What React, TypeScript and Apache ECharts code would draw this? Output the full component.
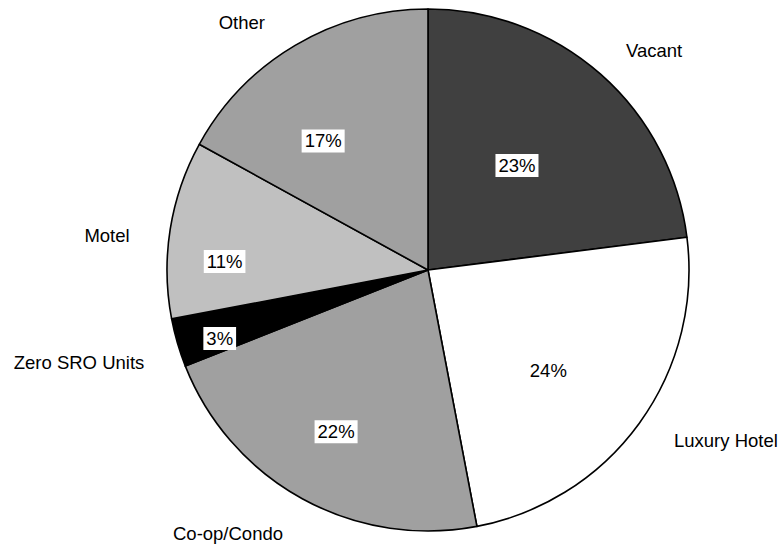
import React, { useEffect, useRef } from "react";
import * as echarts from "echarts";

// Share of converted SRO buildings by current use (percent)
const categories = ["Vacant", "Luxury Hotel", "Co-op/Condo", "Zero SRO Units", "Motel", "Other"];
const shares = [23, 24, 22, 3, 11, 17];
const fills = ["#404040", "#ffffff", "#a0a0a0", "#000000", "#c0c0c0", "#a0a0a0"];

// Pie geometry (px) and label anchors as [degrees clockwise from 12 o'clock, fraction of radius]
const CX = 428;
const CY = 270;
const R = 261;
const innerLabelPolar: [number, number][] = [
  [40.4, 0.526],
  [129.8, 0.6],
  [209.6, 0.713],
  [251.8, 0.84],
  [272.4, 0.78],
  [320.9, 0.637],
];
const outerLabelPolar: [number, number][] = [
  [45.8, 1.208],
  [119.85, 1.316],
  [217.25, 1.266],
  [255.2, 1.383],
  [276.2, 1.237],
  [323.1, 1.188],
];

const FONT = "'Liberation Sans', Arial, Helvetica, sans-serif";

function polarLayout(table: [number, number][]) {
  return (params: any) => {
    const [deg, f] = table[params.dataIndex];
    const rad = (deg * Math.PI) / 180;
    return {
      x: CX + Math.sin(rad) * f * R,
      y: CY - Math.cos(rad) * f * R,
      align: "center",
      verticalAlign: "middle",
    };
  };
}

export default function App() {
  const ref = useRef<HTMLDivElement>(null);

  useEffect(() => {
    if (!ref.current) return;
    const chart = echarts.init(ref.current, null, { renderer: "svg" });
    const data = categories.map((name, i) => ({
      name,
      value: shares[i],
      itemStyle: { color: fills[i] },
    }));

    chart.setOption({
      animation: false,
      backgroundColor: "#ffffff",
      series: [
        {
          // category names around the rim
          type: "pie",
          center: [CX, CY],
          radius: R,
          startAngle: 90,
          clockwise: true,
          avoidLabelOverlap: false,
          silent: true,
          z: 1,
          data: categories.map((name, i) => ({ name, value: shares[i] })),
          itemStyle: { color: "transparent", borderWidth: 0 },
          label: {
            show: true,
            position: "outside",
            formatter: "{b}",
            color: "#000000",
            fontFamily: FONT,
            fontSize: 18.5,
          },
          labelLine: { show: false },
          labelLayout: polarLayout(outerLabelPolar),
          emphasis: { disabled: true },
        },
        {
          // slices with boxed percentage labels
          type: "pie",
          center: [CX, CY],
          radius: R,
          startAngle: 90,
          clockwise: true,
          avoidLabelOverlap: false,
          silent: true,
          z: 2,
          data,
          itemStyle: { borderColor: "#000000", borderWidth: 1.6 },
          label: {
            show: true,
            position: "inside",
            formatter: "{c}%",
            color: "#000000",
            fontFamily: FONT,
            fontSize: 18.5,
            lineHeight: 19,
            backgroundColor: "#ffffff",
            padding: [2, 3, 2, 3],
          },
          labelLine: { show: false },
          labelLayout: polarLayout(innerLabelPolar),
          emphasis: { disabled: true },
        },
      ],
    });

    return () => chart.dispose();
  }, []);

  return (
    <div
      ref={ref}
      style={{ position: "absolute", left: 0, top: 0, width: 781, height: 544 }}
    />
  );
}
